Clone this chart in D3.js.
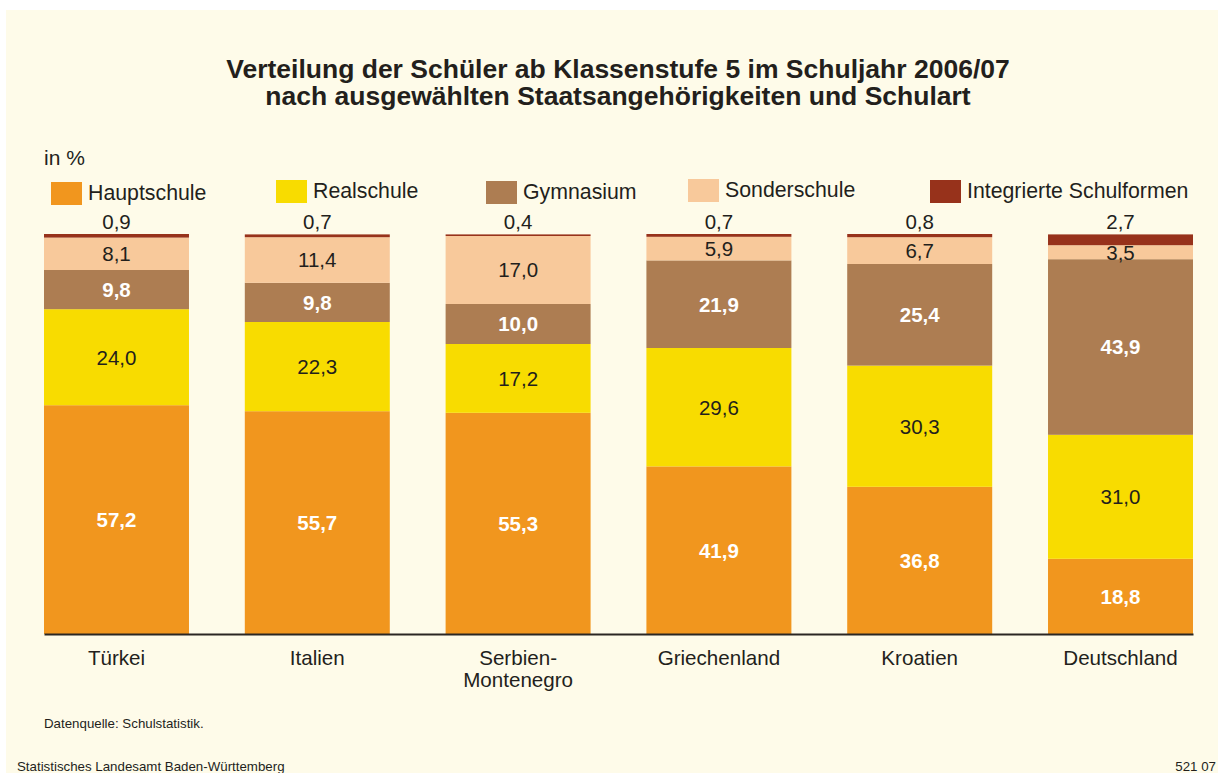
<!DOCTYPE html>
<html lang="de">
<head>
<meta charset="utf-8">
<script src="https://cdn.jsdelivr.net/npm/d3@7/dist/d3.min.js"></script>
<style>
  html, body { margin: 0; padding: 0; background: #ffffff; }
  svg { display: block; }
  text { font-family: "Liberation Sans", Arial, Helvetica, sans-serif; fill: #231f1c; }
</style>
</head>
<body>
<svg id="chart" width="1218" height="773"></svg>
<script>
// Schüler ab Klassenstufe 5, Schuljahr 2006/07, Anteile in %
const categories = ["Türkei", "Italien", "Serbien-\nMontenegro", "Griechenland", "Kroatien", "Deutschland"];
const hauptschule  = [57.2, 55.7, 55.3, 41.9, 36.8, 18.8];
const realschule   = [24.0, 22.3, 17.2, 29.6, 30.3, 31.0];
const gymnasium    = [9.8, 9.8, 10.0, 21.9, 25.4, 43.9];
const sonderschule = [8.1, 11.4, 17.0, 5.9, 6.7, 3.5];
const integrierte  = [0.9, 0.7, 0.4, 0.7, 0.8, 2.7];
const seriesNames  = ["Hauptschule", "Realschule", "Gymnasium", "Sonderschule", "Integrierte Schulformen"];

const seriesValues = [hauptschule, realschule, gymnasium, sonderschule, integrierte];
const colors = ["#f1961e", "#f8dc00", "#ad7d52", "#f8c99b", "#97321b"];

const svg = d3.select("#chart");
const W = 1218, H = 773;

// cream panel
svg.append("rect").attr("x", 6).attr("y", 10).attr("width", W - 6).attr("height", H - 10).attr("fill", "#fefbe9");

// title
const title = svg.append("text").attr("text-anchor", "middle").attr("font-weight", "bold").attr("font-size", 26.5);
title.append("tspan").attr("x", 618).attr("y", 78).text("Verteilung der Schüler ab Klassenstufe 5 im Schuljahr 2006/07");
title.append("tspan").attr("x", 618).attr("y", 105).text("nach ausgewählten Staatsangehörigkeiten und Schulart");

svg.append("text").attr("x", 44).attr("y", 165).attr("font-size", 21).text("in %");

// legend
const legendX = [51, 276, 486, 688, 930];
const legendY = [182, 180, 181, 179, 180];
const legend = svg.append("g");
seriesNames.forEach((name, i) => {
  legend.append("rect").attr("x", legendX[i]).attr("y", legendY[i]).attr("width", 31).attr("height", 23).attr("fill", colors[i]);
  legend.append("text").attr("x", legendX[i] + 37).attr("y", legendY[i] + 18).attr("font-size", 21.3).text(name);
});

// scales
const x = d3.scaleBand().domain(categories).range([44, 1193]).paddingInner(0.278).paddingOuter(0);
const y = d3.scaleLinear().domain([0, 100]).range([634, 234]);

// stacked data
const rows = categories.map((c, i) => {
  const r = { cat: c };
  seriesNames.forEach((s, k) => r[s] = seriesValues[k][i]);
  return r;
});
const stacked = d3.stack().keys(seriesNames)(rows);

const g = svg.append("g");
stacked.forEach((layer, k) => {
  g.selectAll(null).data(layer).enter().append("rect")
    .attr("x", d => x(d.data.cat))
    .attr("y", d => y(d[1]))
    .attr("width", x.bandwidth())
    .attr("height", d => y(d[0]) - y(d[1]))
    .attr("fill", colors[k]);
});

// value labels
const fmt = v => d3.format(".1f")(v).replace(".", ",");
stacked.forEach((layer, k) => {
  const bold = (k === 0 || k === 2);
  g.selectAll(null).data(layer).enter().append("text")
    .attr("x", d => x(d.data.cat) + x.bandwidth() / 2)
    .attr("y", d => k === 4 ? y(d[1]) - 5 : (y(d[0]) + y(d[1])) / 2)
    .attr("dy", k === 4 ? 0 : "0.36em")
    .attr("text-anchor", "middle")
    .attr("font-size", 20.5)
    .attr("font-weight", bold ? "bold" : "normal")
    .style("fill", bold ? "#ffffff" : "#231f1c")
    .text(d => fmt(d.data[seriesNames[k]]));
});

// category axis
const axis = svg.append("g").attr("transform", "translate(0,634)")
  .call(d3.axisBottom(x).tickSize(0).tickSizeOuter(0).tickPadding(0).tickFormat(""));
axis.select(".domain").attr("stroke", "#2a2623").attr("stroke-width", 2);
axis.selectAll(".tick").each(function(d) {
  const t = d3.select(this).append("text")
    .attr("text-anchor", "middle").attr("font-size", 20.6).style("fill", "#231f1c")
    .attr("font-family", "Liberation Sans, Arial, sans-serif");
  d.split("\n").forEach((line, i) => {
    t.append("tspan").attr("x", 0).attr("y", 31 + i * 22).text(line);
  });
});

// footer
svg.append("text").attr("x", 44).attr("y", 728).attr("font-size", 13.3).text("Datenquelle: Schulstatistik.");
svg.append("text").attr("x", 17).attr("y", 771).attr("font-size", 13.3).text("Statistisches Landesamt Baden-Württemberg");
svg.append("text").attr("x", 1216).attr("y", 771).attr("font-size", 13.3).attr("text-anchor", "end").text("521 07");
</script>
</body>
</html>
